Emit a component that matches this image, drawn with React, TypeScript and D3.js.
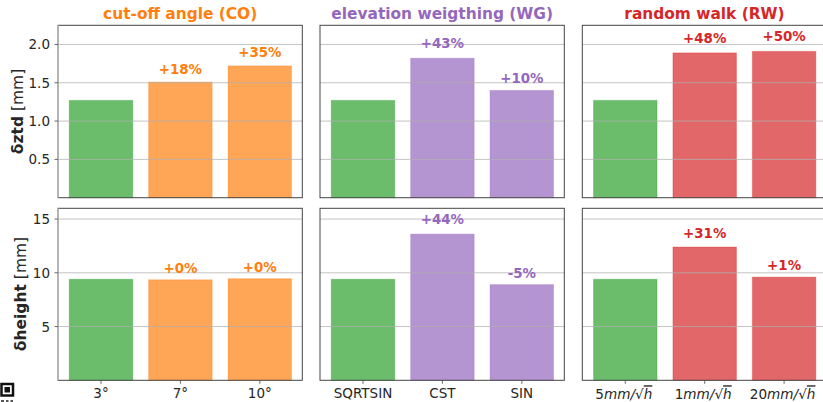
import React from "react";
import * as d3 from "d3";

const groupTitles = ["cut-off angle (CO)", "elevation weigthing (WG)", "random walk (RW)"];
const groupColors = ["#ff7f0e", "#9467bd", "#d62728"];
const baseColor = "#2ca02c";
const ztdValues = [
  [1.27, 1.51, 1.72],
  [1.27, 1.82, 1.4],
  [1.27, 1.89, 1.91],
];
const heightValues = [
  [9.4, 9.35, 9.45],
  [9.4, 13.6, 8.9],
  [9.4, 12.4, 9.6],
];
const ztdLabels = [
  ["", "+18%", "+35%"],
  ["", "+43%", "+10%"],
  ["", "+48%", "+50%"],
];
const heightLabels = [
  ["", "+0%", "+0%"],
  ["", "+44%", "-5%"],
  ["", "+31%", "+1%"],
];
const xCategories = [
  ["3°", "7°", "10°"],
  ["SQRTSIN", "CST", "SIN"],
  ["5", "1", "20"],
];
const ztdTicks = [0.5, 1, 1.5, 2];
const heightTicks = [5, 10, 15];

const FONT = "'DejaVu Sans', sans-serif";
const panelX = [58, 320, 582.3];
const PW = 244.3;
const rows = [
  { top: 25.3, bottom: 197.7, max: 2.25, ticks: ztdTicks, values: ztdValues, labels: ztdLabels, fmt: (d: number) => d.toFixed(1) },
  { top: 208.3, bottom: 380.3, max: 16, ticks: heightTicks, values: heightValues, labels: heightLabels, fmt: (d: number) => String(d) },
];

function SqrtLabel({ x, y, n }: { x: number; y: number; n: string }) {
  return (
    <text x={x} y={y} textAnchor="middle" fontSize={13.6} fill="#262626" fontFamily={FONT}>
      {n}
      <tspan fontStyle="italic">mm/</tspan>
      <tspan>√</tspan>
      <tspan fontStyle="italic" textDecoration="overline">h</tspan>
    </text>
  );
}

export default function App() {
  return (
    <svg width={823} height={402} style={{ position: "absolute", left: 0, top: 0, display: "block" }} fontFamily={FONT}>
      <rect width={823} height={402} fill="#fff" />
      {rows.map((r, ri) => {
        const y = d3.scaleLinear().domain([0, r.max]).range([r.bottom, r.top]);
        return groupTitles.map((t, gi) => {
          const x0 = panelX[gi];
          const x = d3.scaleBand<number>().domain([0, 1, 2]).range([x0 + 43 - 39.7, x0 + 43 + 2 * 79.4 + 39.7]).paddingInner(0.2).paddingOuter(0.1);
          return (
            <g key={`${ri}-${gi}`}>
              {r.values[gi].map((v, i) => {
                const c = i === 0 ? baseColor : groupColors[gi];
                return (
                  <rect key={i} x={x(i)} y={y(v)} width={x.bandwidth()} height={r.bottom - y(v)} fill={c} fillOpacity={0.7} stroke={c} strokeOpacity={0.3} strokeWidth={1} />
                );
              })}
              {r.ticks.map((tk) => (
                <line key={tk} x1={x0} x2={x0 + PW} y1={y(tk)} y2={y(tk)} stroke="#b0b0b0" strokeOpacity={0.75} strokeWidth={1} />
              ))}
              <rect x={x0} y={r.top} width={PW} height={r.bottom - r.top} fill="none" stroke="#444" strokeWidth={1} />
              {gi === 0 && <line x1={x0} x2={x0} y1={r.top} y2={r.bottom} stroke="#bbb" strokeWidth={1.5} />}
              {gi === 0 && r.ticks.map((tk) => (
                <g key={tk}>
                  <line x1={x0 - 3.5} x2={x0} y1={y(tk)} y2={y(tk)} stroke="#444" strokeWidth={0.8} />
                  <text x={x0 - 8} y={y(tk) + 5} textAnchor="end" fontSize={13.5} fill="#262626">{r.fmt(tk)}</text>
                </g>
              ))}
              {r.values[gi].map((v, i) => (
                r.labels[gi][i] ? (
                  <text key={i} x={x(i)! + x.bandwidth() / 2} y={y(v * 1.07)} textAnchor="middle" fontSize={13.4} fontWeight="bold" fill={groupColors[gi]}>{r.labels[gi][i]}</text>
                ) : null
              ))}
              {ri === 1 && xCategories[gi].map((c, i) => {
                const cx = x(i)! + x.bandwidth() / 2;
                return (
                  <g key={i}>
                    <line x1={cx} x2={cx} y1={r.bottom} y2={r.bottom + 3.5} stroke="#444" strokeWidth={0.8} />
                    {gi === 2 ? (
                      <SqrtLabel x={cx - 1.5} y={r.bottom + 19} n={c} />
                    ) : (
                      <text x={cx} y={r.bottom + 18} textAnchor="middle" fontSize={13.5} fill="#262626">{c}</text>
                    )}
                  </g>
                );
              })}
              {ri === 0 && (
                <text x={x0 + PW / 2} y={19} textAnchor="middle" fontSize={15.4} fontWeight="bold" fill={groupColors[gi]}>{t}</text>
              )}
            </g>
          );
        });
      })}
      <text transform="translate(23,111.5) rotate(-90)" textAnchor="middle" fontSize={15.5} fill="#262626">
        <tspan fontWeight="bold">δztd</tspan> [mm]
      </text>
      <text transform="translate(25.5,294) rotate(-90)" textAnchor="middle" fontSize={15.5} fill="#262626">
        <tspan fontWeight="bold">δheight</tspan> [mm]
      </text>
      <g>
        <rect x={1.5} y={384} width={11.5} height={11.5} fill="none" stroke="#111" strokeWidth={2.5} />
        <rect x={4.5} y={387} width={5.5} height={5.5} fill="#111" />
        <rect x={1} y={400} width={3} height={2} fill="#555" />
        <rect x={6} y={400} width={2.5} height={2} fill="#555" />
        <rect x={10.5} y={400} width={2.5} height={2} fill="#555" />
      </g>
    </svg>
  );
}
